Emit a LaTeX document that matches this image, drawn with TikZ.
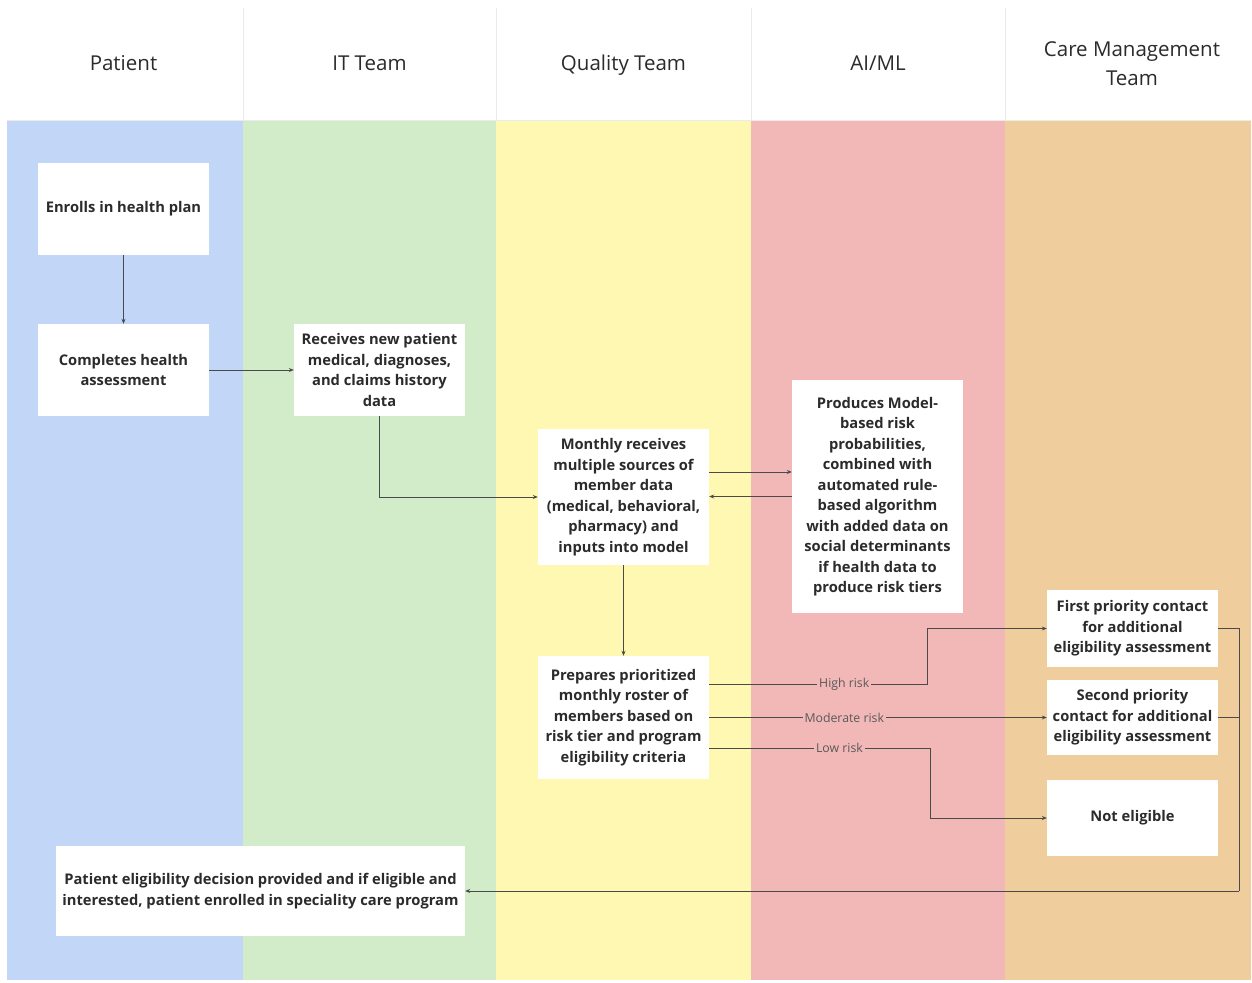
\documentclass[tikz,border=0pt]{standalone}
\usepackage{fontspec}
\setmainfont{Open Sans}
\usetikzlibrary{arrows.meta}
\definecolor{laneA}{HTML}{C2D6F7}
\definecolor{laneB}{HTML}{D2EBC9}
\definecolor{laneC}{HTML}{FFF8B3}
\definecolor{laneD}{HTML}{F2B8B8}
\definecolor{laneE}{HTML}{F0CD9D}
\definecolor{linec}{HTML}{4A4A4A}
\definecolor{txt}{HTML}{2B2B2B}
\begin{document}
\begin{tikzpicture}[x=1pt,y=-1pt,
  box/.style={fill=white,draw=none,align=center,text=txt,inner sep=0pt,
    font=\bfseries\fontsize{14.7}{20.5}\selectfont},
  head/.style={align=center,text=txt,font=\fontsize{20.5}{29}\selectfont},
  conn/.style={draw=linec,line width=0.7pt},
  arr/.style={conn,-{Stealth[length=5pt,width=4pt]}},
  lbl/.style={fill=laneD,text=black!65,inner sep=2pt,font=\fontsize{12.3}{14}\selectfont}
]
\useasboundingbox (0,0) rectangle (1252,982);
\fill[white] (0,0) rectangle (1252,982);
% lanes
\fill[laneA] (7,121) rectangle (243,980);
\fill[laneB] (243,121) rectangle (496,980);
\fill[laneC] (496,121) rectangle (751,980);
\fill[laneD] (751,121) rectangle (1005,980);
\fill[laneE] (1005,121) rectangle (1251,980);
% header dividers
\foreach \xx in {243,496,751,1005} \draw[black!8,line width=0.8pt] (\xx,8) -- (\xx,120);
\draw[black!8,line width=0.8pt] (7,120.5) -- (1251,120.5);
% headers
\node[head] (hA) at (123.5,63) {Patient};
\node[head] (hB) at (369.5,63) {IT Team};
\node[head] (hC) at (623.5,65) {Quality Team};
\node[head] (hD) at (878,63) {AI/ML};
\node[head] (hE) at (1132,63.5) {Care Management\\Team};
% nodes
\node[box,minimum width=171,minimum height=92] (enroll) at (123.5,209) {Enrolls in health plan};
\node[box,minimum width=171,minimum height=92] (complete) at (123.5,370) {Completes health\\assessment};
\node[box,minimum width=171,minimum height=92] (receive) at (379.5,370) {Receives new patient\\medical, diagnoses,\\and claims history\\data};
\node[box,minimum width=171,minimum height=136] (monthly) at (623.5,497) {Monthly receives\\multiple sources of\\member data\\(medical, behavioral,\\pharmacy) and\\inputs into model};
\node[box,minimum width=171,minimum height=233] (produce) at (877.5,496.5) {Produces Model-\\based risk\\probabilities,\\combined with\\automated rule-\\based algorithm\\with added data on\\social determinants\\if health data to\\produce risk tiers};
\node[box,minimum width=171,minimum height=123] (prep) at (623.5,717.5) {Prepares prioritized\\monthly roster of\\members based on\\risk tier and program\\eligibility criteria};
\node[box,minimum width=171,minimum height=77] (first) at (1132.5,628.5) {First priority contact\\for additional\\eligibility assessment};
\node[box,minimum width=171,minimum height=75] (second) at (1132.5,717.5) {Second priority\\contact for additional\\eligibility assessment};
\node[box,minimum width=171,minimum height=76] (notel) at (1132.5,818) {Not eligible};
\node[box,minimum width=409,minimum height=90] (final) at (260.5,891) {Patient eligibility decision provided and if eligible and\\interested, patient enrolled in speciality care program};
% connectors
\draw[arr] (enroll) -- (complete);
\draw[arr] (complete) -- (receive);
\draw[arr] (receive.south) |- (monthly.west);
\draw[arr] ([yshift=25pt]monthly.east) -- ([yshift=25pt]monthly.east -| produce.west);
\draw[arr] (produce.west) -- (produce.west -| monthly.east);
\draw[arr] (monthly) -- (prep);
\coordinate (hk) at (927,684);
\coordinate (lk) at (930,748);
\draw[arr] ([yshift=33.5pt]prep.east) -- node[lbl,pos=0.62] (lh) {High risk} (hk) |- (first.west);
\draw[arr] (prep.east) -- node[lbl,pos=0.40] (lm) {Moderate risk} (second.west);
\draw[arr] ([yshift=-30.5pt]prep.east) -- node[lbl,pos=0.59] (ll) {Low risk} (lk) |- (notel.west);
\coordinate (rb) at (1239,891);
\draw[conn] (first.east) -| (rb);
\draw[conn] (second.east) -- (second.east -| rb);
\draw[arr] (rb) -- (final.east);
\end{tikzpicture}
\end{document}
